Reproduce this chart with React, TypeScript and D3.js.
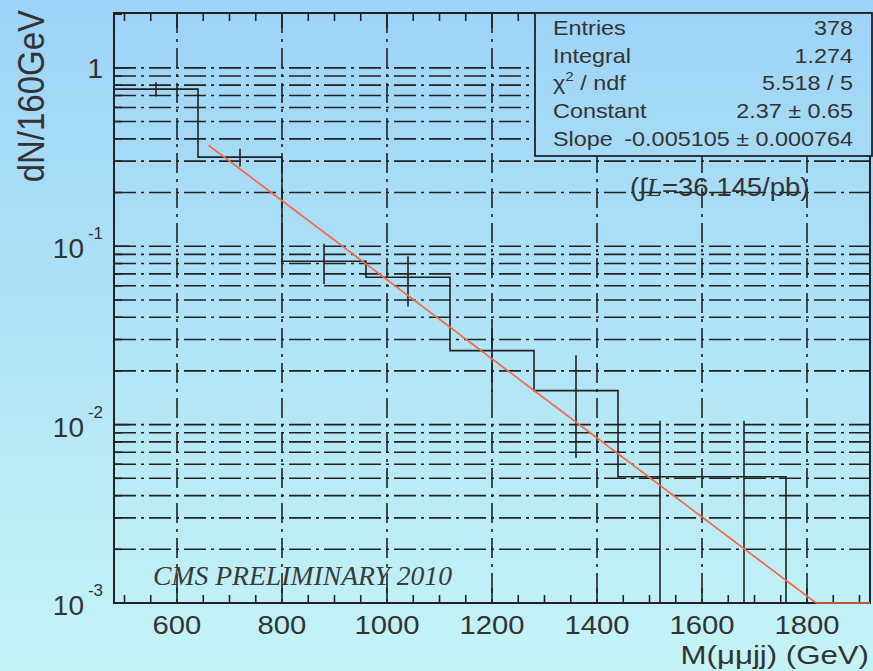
import React, { useEffect, useRef } from "react";
import * as d3 from "d3";

// histogram (160 GeV bins)
const binEdges = [480, 640, 800, 960, 1120, 1280, 1440, 1600, 1760, 1920];
const binValues = [0.76, 0.316, 0.0824, 0.067, 0.026, 0.0155, 0.0051, 0.0051, 0];
const binErrors = [0.07, 0.036, 0.021, 0.021, 0.012, 0.009, 0.0054, 0.0054, 0];

// exponential fit exp(constant + slope * x)
const fitConstant = 2.37;
const fitSlope = -0.005105;
const fitRange = [660, 1920];

const xMajorTicks = [600, 800, 1000, 1200, 1400, 1600, 1800];
const yDecades = [0.001, 0.01, 0.1, 1];
const yDecadeLabels = ["-3", "-2", "-1", ""];

const statLabels = ["Entries", "Integral", "χ", "Constant", "Slope"];
const statValues = ["378", "1.274", "5.518 / 5", "2.37 ± 0.65", "-0.005105 ± 0.000764"];

const W = 873;
const H = 671;
const frame = { left: 114, right: 870, top: 13, bottom: 603 };
const ink = "#222";
const textColor = "#333";
const sans = "Liberation Sans, Arial, Helvetica, sans-serif";

const x = d3.scaleLinear().domain([480, 1920]).range([frame.left, frame.right]);
const y = d3.scaleLog().domain([1e-3, 2.03]).range([frame.bottom, frame.top]);

export default function App() {
  const gridRef = useRef<SVGGElement>(null);
  const histRef = useRef<SVGGElement>(null);
  const axisRef = useRef<SVGGElement>(null);

  useEffect(() => {
    // grid
    const grid = d3.select(gridRef.current);
    grid.selectAll("*").remove();
    const yGrid: number[] = [];
    yDecades.forEach(d => {
      for (let m = 1; m <= 9; m++) if (d * m < 2) yGrid.push(d * m);
    });
    grid
      .selectAll(".hg")
      .data(yGrid)
      .enter()
      .append("line")
      .attr("class", "hg")
      .attr("x1", frame.left)
      .attr("x2", frame.right)
      .attr("y1", d => y(d))
      .attr("y2", d => y(d))
      .attr("stroke", ink)
      .attr("stroke-width", 1.6)
      .attr("stroke-dasharray", "22 5 3 5");
    grid
      .selectAll(".vg")
      .data(xMajorTicks)
      .enter()
      .append("line")
      .attr("class", "vg")
      .attr("x1", d => x(d))
      .attr("x2", d => x(d))
      .attr("y1", frame.top)
      .attr("y2", frame.bottom)
      .attr("stroke", ink)
      .attr("stroke-width", 1.6)
      .attr("stroke-dasharray", "20 6 3 6");

    // histogram outline + error bars
    const hist = d3.select(histRef.current);
    hist.selectAll("*").remove();
    const ymin = y.domain()[0];
    const steps: [number, number][] = [];
    binValues.forEach((v, i) => {
      const val = Math.max(v, ymin);
      steps.push([binEdges[i], val]);
      steps.push([binEdges[i + 1], val]);
    });
    const line = d3
      .line<[number, number]>()
      .x(d => x(d[0]))
      .y(d => y(d[1]));
    hist
      .append("path")
      .attr("d", line(steps))
      .attr("fill", "none")
      .attr("stroke", ink)
      .attr("stroke-width", 1.6);

    hist
      .selectAll(".err")
      .data(binValues.map((v, i) => ({ v, e: binErrors[i], c: (binEdges[i] + binEdges[i + 1]) / 2 })).filter(d => d.e > 0))
      .enter()
      .append("line")
      .attr("class", "err")
      .attr("x1", d => x(d.c))
      .attr("x2", d => x(d.c))
      .attr("y1", d => y(Math.max(d.v - d.e, ymin)))
      .attr("y2", d => y(d.v + d.e))
      .attr("stroke", ink)
      .attr("stroke-width", 1.6);

    const fitPts: [number, number][] = d3
      .range(fitRange[0], fitRange[1] + 1, 5)
      .map(m => [m, Math.max(Math.exp(fitConstant + fitSlope * m), ymin)]);

    // frame + ticks
    const axis = d3.select(axisRef.current);
    axis.selectAll("*").remove();
    axis
      .append("rect")
      .attr("x", frame.left)
      .attr("y", frame.top)
      .attr("width", frame.right - frame.left)
      .attr("height", frame.bottom - frame.top)
      .attr("fill", "none")
      .attr("stroke", ink)
      .attr("stroke-width", 2);
    const xMinor = d3.range(500, 1920, 50);
    xMinor.forEach(t => {
      const len = t % 200 === 0 ? 15 : 8;
      axis.append("line").attr("x1", x(t)).attr("x2", x(t)).attr("y1", frame.bottom).attr("y2", frame.bottom - len)
        .attr("stroke", ink).attr("stroke-width", 1.6);
      axis.append("line").attr("x1", x(t)).attr("x2", x(t)).attr("y1", frame.top).attr("y2", frame.top + len)
        .attr("stroke", ink).attr("stroke-width", 1.6);
    });
    yDecades.forEach(d => {
      for (let m = 1; m <= 9; m++) {
        const v = d * m;
        if (v >= 2.03) continue;
        const len = m === 1 ? 15 : 8;
        axis.append("line").attr("x1", frame.left).attr("x2", frame.left + len).attr("y1", y(v)).attr("y2", y(v))
          .attr("stroke", ink).attr("stroke-width", 1.6);
      }
    });
    // fit drawn over the frame so the clipped part shows along the bottom
    axis
      .append("path")
      .attr("d", line(fitPts))
      .attr("fill", "none")
      .attr("stroke", "#f4694a")
      .attr("stroke-width", 1.7);
  }, []);

  const statBaselines = [35, 62.5, 90, 118, 146];

  return (
    <svg width={W} height={H} style={{ position: "absolute", left: 0, top: 0 }} fontFamily={sans}>
      <defs>
        <linearGradient id="bg" gradientUnits="userSpaceOnUse" x1="0" y1="0" x2="0" y2={H}>
          <stop offset="0" stopColor="#9dd3f7" />
          <stop offset="1" stopColor="#c4f4f6" />
        </linearGradient>
      </defs>
      <rect x={0} y={0} width={W} height={H} fill="url(#bg)" />
      <g ref={gridRef} />
      <g ref={histRef} />
      <g ref={axisRef} />

      {/* stats box */}
      <rect x={535} y={frame.top} width={337} height={156 - frame.top} fill="url(#bg)" stroke={ink} strokeWidth={1.8} />
      {statLabels.map((s, i) => (
        <g key={s} transform={`translate(553,${statBaselines[i]}) scale(1.17,1)`}>
          <text fontSize={20} fill={textColor}>
            {s}
            {i === 2 && (
              <>
                <tspan fontSize={13} dy={-9}>2</tspan>
                <tspan dy={9}> / ndf</tspan>
              </>
            )}
          </text>
        </g>
      ))}
      {statValues.map((s, i) => (
        <g key={s} transform={`translate(853,${statBaselines[i]}) scale(1.17,1)`}>
          <text fontSize={20} fill={textColor} textAnchor="end">{s}</text>
        </g>
      ))}

      {/* luminosity */}
      <g transform="translate(630,196) scale(1.1,1)">
        <text fontSize={25} fill={textColor}>
          (∫<tspan fontFamily="Liberation Serif, Times New Roman, serif" fontStyle="italic">L</tspan>=36.145/pb)
        </text>
      </g>

      {/* CMS label */}
      <text x={153} y={585} fontSize={27} fontStyle="italic" fill="#3a3a3a"
        fontFamily="Liberation Serif, Times New Roman, serif" textLength={299} lengthAdjust="spacingAndGlyphs">
        CMS PRELIMINARY 2010
      </text>

      {/* x tick labels */}
      {xMajorTicks.map(t => (
        <g key={t} transform={`translate(${x(t)},634) scale(1.17,1)`}>
          <text fontSize={25} fill={textColor} textAnchor="middle">{t}</text>
        </g>
      ))}
      <g transform="translate(869,664) scale(1.2,1)">
        <text fontSize={26} fill={textColor} textAnchor="end">M(μμjj) (GeV)</text>
      </g>

      {/* y tick labels */}
      {yDecades.map((d, i) =>
        yDecadeLabels[i] === "" ? (
          <text key={d} x={103} y={y(d) + 10} fontSize={28} fill={textColor} textAnchor="end">1</text>
        ) : (
          <g key={d}>
            <text x={84} y={y(d) + 12} fontSize={28} fill={textColor} textAnchor="end">10</text>
            <text x={103} y={y(d) - 7} fontSize={17} fill={textColor} textAnchor="end">{yDecadeLabels[i]}</text>
          </g>
        )
      )}
      <g transform="translate(44,10) scale(1.1,1) rotate(-90)">
        <text fontSize={33} fill={textColor} textAnchor="end">dN/160GeV</text>
      </g>
    </svg>
  );
}
